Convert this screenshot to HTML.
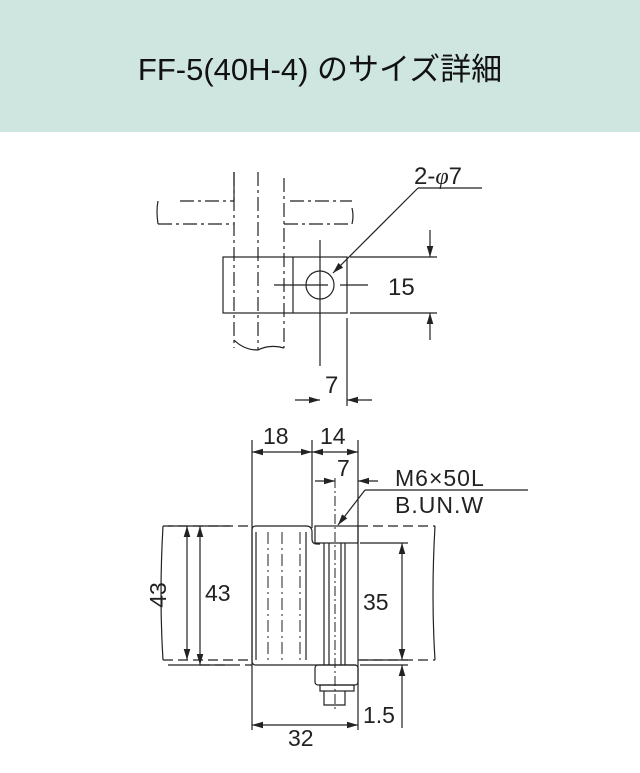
<!DOCTYPE html>
<html><head><meta charset="utf-8"><style>
body{margin:0;width:640px;height:773px;background:#fff;overflow:hidden;font-family:"Liberation Sans","Noto Sans CJK JP",sans-serif}
.h{position:absolute;left:0;top:0;width:640px;height:132px;background:#cfe6e0;text-align:center;line-height:140px;font-size:31px;color:#111}
svg{position:absolute;left:0;top:0}
</style></head><body>
<div class="h">FF-5(40H-4) のサイズ詳細</div>
<svg width="640" height="773" viewBox="0 0 640 773" fill="none" stroke="#222" stroke-width="1.2" font-family="Liberation Sans, sans-serif">
<defs><marker id="a" viewBox="0 0 10 6" refX="10" refY="3" markerWidth="11" markerHeight="7" orient="auto-start-reverse" markerUnits="userSpaceOnUse"><path d="M0 0L10 3L0 6z" fill="#222" stroke="none"/></marker></defs>
<!-- top view -->
<g stroke-dasharray="14 4 3 4">
<path d="M158 224H234M284 224H352"/>
<path d="M180 201H234M290 201H352"/>
<line x1="234" y1="172" x2="234" y2="348"/><line x1="284" y1="178" x2="284" y2="348"/>
<line x1="258" y1="172" x2="258" y2="350"/>
</g>
<path d="M234 172v29M158 201q-2 10 0 23M352 208q2 8 0 16M234 340q10 10 24 10M258 350q12-6 26-2"/>
<rect x="223" y="257" width="124" height="56"/><line x1="293" y1="257" x2="293" y2="313"/>
<circle cx="320" cy="285" r="14"/>
<path d="M274 285h54M340 285h28M320 240v126M347 318v88M350 257h87M350 313h87"/>
<line x1="430" y1="230" x2="430" y2="257" marker-end="url(#a)"/><line x1="430" y1="340" x2="430" y2="313" marker-end="url(#a)"/>
<line x1="295" y1="400" x2="320" y2="400" marker-end="url(#a)"/><line x1="372" y1="400" x2="347" y2="400" marker-end="url(#a)"/>
<path d="M482 188H418"/><line x1="418" y1="188" x2="333" y2="273" marker-end="url(#a)"/>
<g fill="#222" stroke="none" font-size="24">
<text x="414" y="184">2-<tspan font-family="Liberation Serif" font-style="italic">φ</tspan>7</text>
<text x="388" y="295">15</text><text x="325" y="393">7</text>
</g>
<!-- bottom view -->
<g stroke-dasharray="10 5">
<path d="M163 526H252M358 526H435M163 660H252M358 660H435M200 665H252"/>
</g>
<path d="M163 526q-4 70 0 134M435 526q-4 70 0 134"/>
<path d="M256 526h50q6 0 6 6v7q0 5 5 5h3M252 530q0-4 4-4M252 530v131q0 4 4 4h100M256 532v128M306 532v128"/>
<g stroke-dasharray="12 4 2 4" stroke-width="1"><path d="M282 532v128M300 532v128M268 532v128"/></g>
<rect x="315" y="526" width="43" height="17"/>
<path d="M324 543v122M329 543v122M341 543v122M345 543v122"/>
<rect x="315" y="665" width="43" height="20" rx="3"/><rect x="320" y="685" width="34" height="6"/>
<path d="M324 691v14h21v-14"/>
<path d="M335 478v232" stroke-dasharray="10 3 2 3" stroke-width="1"/>
<path d="M252 440v290M312 440v88M358 440v290M168 526h62M168 665h62M360 543h48M360 660h48M360 665h48"/>
<line x1="282" y1="452" x2="252" y2="452" marker-end="url(#a)"/><line x1="282" y1="452" x2="312" y2="452" marker-end="url(#a)"/>
<line x1="335" y1="452" x2="312" y2="452" marker-end="url(#a)"/><line x1="335" y1="452" x2="358" y2="452" marker-end="url(#a)"/>
<line x1="315" y1="481" x2="335" y2="481" marker-end="url(#a)"/><line x1="378" y1="481" x2="358" y2="481" marker-end="url(#a)"/>
<path d="M528 490H365"/><line x1="365" y1="490" x2="338" y2="525" marker-end="url(#a)"/>
<line x1="187" y1="595" x2="187" y2="526" marker-end="url(#a)"/><line x1="187" y1="595" x2="187" y2="660" marker-end="url(#a)"/>
<line x1="200" y1="595" x2="200" y2="526" marker-end="url(#a)"/><line x1="200" y1="595" x2="200" y2="665" marker-end="url(#a)"/>
<line x1="402" y1="600" x2="402" y2="543" marker-end="url(#a)"/><line x1="402" y1="600" x2="402" y2="660" marker-end="url(#a)"/>
<line x1="402" y1="728" x2="402" y2="665" marker-end="url(#a)"/>
<line x1="305" y1="725" x2="252" y2="725" marker-end="url(#a)"/><line x1="305" y1="725" x2="358" y2="725" marker-end="url(#a)"/>
<g fill="#222" stroke="none" font-size="23">
<text x="263" y="444">18</text><text x="320" y="444">14</text><text x="337" y="476">7</text>
<text x="395" y="486" letter-spacing="1">M6×50L</text><text x="395" y="513" letter-spacing="1">B.UN.W</text>
<text x="205" y="601">43</text><text x="363" y="610">35</text><text x="363" y="723">1.5</text>
<text x="288" y="746">32</text>
<text transform="translate(166 595) rotate(-90)" text-anchor="middle">43</text>
</g>
</svg>
</body></html>
